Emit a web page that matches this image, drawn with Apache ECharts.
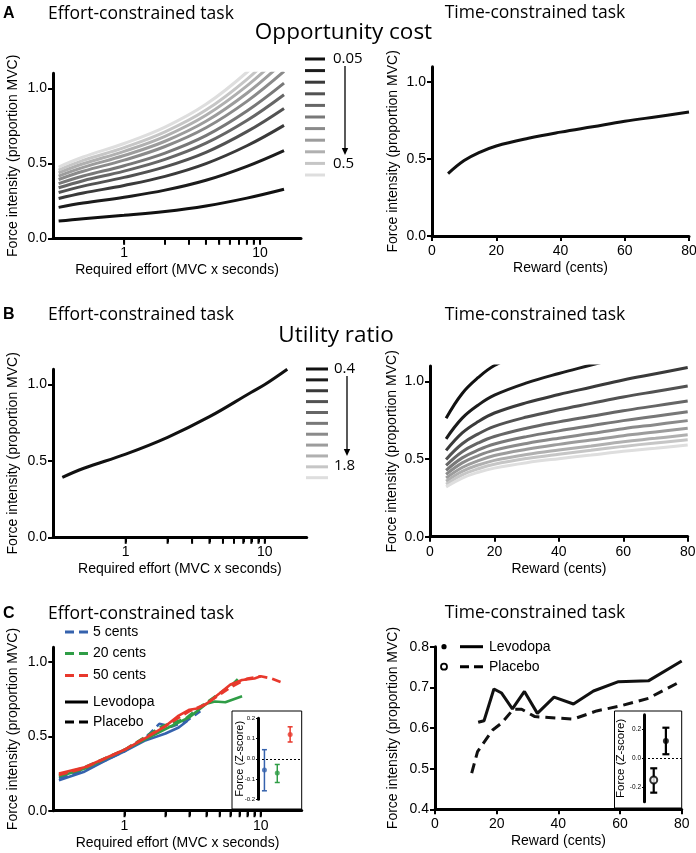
<!DOCTYPE html>
<html><head><meta charset="utf-8">
<script src="https://cdn.jsdelivr.net/npm/echarts@6/dist/echarts.min.js"></script>
<style>html,body{margin:0;padding:0;background:#fff}#c{width:696px;height:853px}</style>
</head><body><div id="c"></div>
<script>
// ---------------- DATA ----------------
// Panel A left: opportunity cost curves (force vs required effort)
const effortX = [0.33, 0.5, 1, 2, 4, 8, 15];
const oppCurve1  = [0.115, 0.131, 0.153, 0.179, 0.216, 0.268, 0.327];
const oppCurve2  = [0.206, 0.235, 0.274, 0.321, 0.387, 0.480, 0.585];
const oppCurve3  = [0.265, 0.302, 0.352, 0.413, 0.498, 0.617, 0.753];
const oppCurve4  = [0.305, 0.348, 0.406, 0.476, 0.573, 0.711, 0.866];
const oppCurve5  = [0.337, 0.384, 0.448, 0.526, 0.634, 0.785, 0.957];
const oppCurve6  = [0.364, 0.415, 0.484, 0.568, 0.684, 0.848, 1.034];
const oppCurve7  = [0.392, 0.447, 0.521, 0.612, 0.737, 0.913, 1.113];
const oppCurve8  = [0.415, 0.473, 0.552, 0.647, 0.780, 0.967, 1.179];
const oppCurve9  = [0.436, 0.497, 0.580, 0.680, 0.820, 1.016, 1.238];
const oppCurve10 = [0.455, 0.519, 0.605, 0.710, 0.855, 1.060, 1.292];
const oppCurve11 = [0.475, 0.542, 0.632, 0.741, 0.893, 1.107, 1.349];
const oppCurves = [oppCurve1, oppCurve2, oppCurve3, oppCurve4, oppCurve5, oppCurve6, oppCurve7, oppCurve8, oppCurve9, oppCurve10, oppCurve11];
const oppLegendLabels = ['0.05', '0.5'];

// Panel A right: force vs reward
const rewardX = [5, 10, 15, 20, 30, 40, 50, 60, 70, 80];
const rewardCurveA = [0.405, 0.49, 0.545, 0.585, 0.635, 0.675, 0.71, 0.745, 0.775, 0.805];

// Panel B left
const effortXB = [0.35, 0.5, 1, 2, 4, 8, 10, 14.5];
const effortCurveB = [0.392, 0.452, 0.545, 0.655, 0.79, 0.95, 1.0, 1.1];

// Panel B right: utility ratio curves (paired with rewardX by index)
const util1  = [0.763, 0.923, 1.026, 1.103, 1.198];
const util2  = [0.631, 0.764, 0.849, 0.912, 0.991, 1.052, 1.106, 1.161];
const util3  = [0.556, 0.669, 0.742, 0.797, 0.864, 0.916, 0.963, 1.010, 1.050, 1.090];
const util4  = [0.498, 0.599, 0.663, 0.711, 0.771, 0.818, 0.859, 0.900, 0.936, 0.971];
const util5  = [0.460, 0.548, 0.604, 0.646, 0.699, 0.740, 0.776, 0.812, 0.843, 0.874];
const util6  = [0.428, 0.508, 0.559, 0.597, 0.645, 0.682, 0.715, 0.748, 0.776, 0.805];
const util7  = [0.402, 0.476, 0.523, 0.558, 0.601, 0.635, 0.665, 0.696, 0.722, 0.748];
const util8  = [0.378, 0.446, 0.490, 0.523, 0.563, 0.595, 0.623, 0.651, 0.675, 0.699];
const util9  = [0.357, 0.421, 0.462, 0.492, 0.530, 0.559, 0.585, 0.612, 0.634, 0.657];
const util10 = [0.338, 0.399, 0.438, 0.467, 0.504, 0.532, 0.557, 0.582, 0.604, 0.625];
const util11 = [0.321, 0.378, 0.415, 0.442, 0.477, 0.503, 0.526, 0.550, 0.570, 0.591];
const utilCurves = [util1, util2, util3, util4, util5, util6, util7, util8, util9, util10, util11];
const utilLegendLabels = ['0.4', '1.8'];

// Panel C left: [effort, force]
const blueLevodopa  = [[0.33,0.205],[0.5,0.26],[0.7,0.33],[1,0.40],[1.4,0.47],[2,0.52],[2.5,0.56],[2.9,0.605]];
const bluePlacebo   = [[0.33,0.22],[0.5,0.27],[1,0.40],[1.5,0.51],[1.8,0.585],[2.2,0.565],[2.8,0.60],[3.3,0.645],[3.6,0.67]];
const greenLevodopa = [[0.33,0.23],[0.5,0.28],[1,0.41],[2,0.55],[3,0.63],[4,0.72],[4.6,0.735],[5.5,0.73],[7.3,0.77]];
const greenPlacebo  = [[0.33,0.24],[0.5,0.29],[1,0.41],[1.9,0.57],[2.8,0.62],[3.6,0.70],[5,0.79],[6.2,0.85],[7.2,0.91]];
const redLevodopa   = [[0.33,0.25],[0.5,0.29],[0.75,0.36],[1,0.41],[1.5,0.50],[2,0.57],[2.5,0.64],[3,0.68],[3.5,0.69],[4,0.72],[5,0.79],[6,0.85],[7.3,0.88],[9,0.89],[10,0.905]];
const redPlacebo    = [[0.33,0.24],[0.5,0.285],[0.8,0.37],[1,0.41],[1.4,0.49],[2,0.57],[3,0.67],[4,0.72],[6,0.83],[8,0.89],[10,0.905],[12,0.89],[15,0.855]];
const rewardLegend = ['5 cents', '20 cents', '50 cents'];
const drugLegend = ['Levodopa', 'Placebo'];

// Panel C right
const levoX = [14, 15.9, 19.1, 21.6, 25.1, 29, 33.2, 38.6, 44.9, 51.4, 59.5, 69.2, 80];
const levoV = [0.614, 0.618, 0.696, 0.686, 0.647, 0.690, 0.636, 0.676, 0.659, 0.691, 0.714, 0.716, 0.765];
const placX = [11.9, 13.8, 18.7, 21.6, 25.4, 28.1, 32.4, 44.9, 52.4, 60, 69.2, 80];
const placV = [0.489, 0.542, 0.595, 0.612, 0.646, 0.646, 0.628, 0.622, 0.642, 0.654, 0.673, 0.716];

// Insets (Z-score)
const insetLPos  = [1, 2, 3];            // 5, 20, 50 cents
const insetLMean = [-0.055, -0.07, 0.12];
const insetLLow  = [-0.158, -0.117, 0.083];
const insetLHigh = [0.045, -0.028, 0.158];
const insetRPos  = [1, 2];               // placebo, levodopa
const insetRMean = [-0.15, 0.119];
const insetRLow  = [-0.237, 0.028];
const insetRHigh = [-0.069, 0.211];

// Tick values
const effortTickLabels = [1, 10];
const effortTicks = [1, 2, 3, 4, 5, 6, 7, 8, 9, 10];
const forceTicks = [0, 0.5, 1.0];

// ---------------- STYLE ----------------
const FA = '"Liberation Sans", Arial, sans-serif';
const FT = '"Open Sans", sans-serif';
const grays = ['#111111','#1c1c1c','#3a3a3a','#525252','#666666','#787878','#8a8a8a','#9c9c9c','#b0b0b0','#c6c6c6','#dedede'];
const BLUE = '#3562ad', GREEN = '#2f9d46', RED = '#e8382c';
const insetLColors = [BLUE, GREEN, RED];

function fmt1(v) { const r = Math.round(v * 10) / 10; return (r === 0 ? 0 : r).toFixed(1); }

function mkAxis(gridIndex, type, o) {
  const a = {
    gridIndex, type,
    axisLine: {show: true, onZero: false, lineStyle: {color: '#000', width: 3}},
    axisTick: {show: true, length: 5, lineStyle: {color: '#000', width: 2}},
    axisLabel: {show: true, color: '#000', fontSize: 14, fontFamily: FA, margin: 7},
    splitLine: {show: false},
    nameLocation: 'middle',
    nameTextStyle: {color: '#000', fontSize: 14, fontFamily: FA},
    nameMoveOverlap: false
  };
  for (const k in o) {
    if (a[k] && typeof a[k] === 'object' && !Array.isArray(a[k]) && o[k] && typeof o[k] === 'object' && !Array.isArray(o[k])) Object.assign(a[k], o[k]);
    else a[k] = o[k];
  }
  return a;
}
function logX(gi) {
  return mkAxis(gi, 'log', {logBase: 10, min: 0.3, max: 20,
    axisLabel: {customValues: effortTickLabels, formatter: v => String(Math.round(v)), margin: 8},
    axisTick: {customValues: effortTicks},
    name: 'Required effort (MVC x seconds)', nameGap: 25});
}
function rewardXAxis(gi) {
  return mkAxis(gi, 'value', {min: 0, max: 80, interval: 20, axisLabel: {margin: 8}, name: 'Reward (cents)', nameGap: 25});
}
function forceY(gi, gap) {
  return mkAxis(gi, 'value', {min: 0, max: 1.1,
    axisLabel: {customValues: forceTicks, formatter: fmt1, margin: 6},
    axisTick: {customValues: forceTicks},
    name: 'Force intensity (proportion MVC)', nameGap: gap});
}

const grids = [
  {left: 53, top: 73.3, width: 248, height: 165},
  {left: 432, top: 66.7, width: 257, height: 169.3},
  {left: 53, top: 369.3, width: 253.7, height: 168},
  {left: 430, top: 366, width: 257.7, height: 170.7},
  {left: 53.3, top: 647.3, width: 248.4, height: 163.4},
  {left: 435, top: 646.7, width: 246.7, height: 162.6},
  {left: 258, top: 718.3, width: 43.7, height: 81},
  {left: 644, top: 714.8, width: 37.7, height: 87}
].map(g => Object.assign({outerBoundsMode: 'none', containLabel: false}, g));

const xAxes = [
  logX(0), rewardXAxis(1), logX(2), rewardXAxis(3), logX(4), rewardXAxis(5),
  {gridIndex: 6, type: 'value', min: 0.5, max: 3.9, show: false},
  {gridIndex: 7, type: 'value', min: 0.2, max: 3.3, show: false}
];
const yAxes = [
  forceY(0, 33), forceY(1, 32), forceY(2, 33), forceY(3, 31), forceY(4, 33),
  mkAxis(5, 'value', {min: 0.4, max: 0.8, interval: 0.1, axisLabel: {formatter: fmt1, margin: 6},
    name: 'Force intensity (proportion MVC)', nameGap: 35}),
  mkAxis(6, 'value', {min: -0.2, max: 0.2, interval: 0.1,
    axisTick: {length: 2, lineStyle: {color: '#000', width: 1}},
    axisLabel: {fontSize: 6, margin: 3, formatter: fmt1},
    name: 'Force (Z-score)', nameGap: 13, nameTextStyle: {color: '#000', fontSize: 11, fontFamily: FA}}),
  mkAxis(7, 'value', {min: -0.3, max: 0.3,
    axisTick: {customValues: [-0.2, 0, 0.2], length: 2, lineStyle: {color: '#000', width: 1}},
    axisLabel: {customValues: [-0.2, 0, 0.2], fontSize: 6.5, margin: 3, formatter: fmt1},
    name: 'Force (Z-score)', nameGap: 17, nameTextStyle: {color: '#000', fontSize: 11.5, fontFamily: FA}})
];

function line(idx, data, color, width, dash, smooth) {
  return {type: 'line', xAxisIndex: idx, yAxisIndex: idx, data, smooth: smooth ? 0.4 : false,
    symbol: 'none', showSymbol: false, clip: true, silent: true, animation: false,
    lineStyle: {color, width, type: dash || 'solid'}, itemStyle: {color}};
}
const series = [];
// minor ticks on the log effort axes (2..9 between 1 and 10)
[0, 2, 4].forEach(gi => series.push({type: 'custom', xAxisIndex: gi, yAxisIndex: gi, silent: true, animation: false, clip: false,
  data: effortTicks.map(v => [v, 0]),
  renderItem: (params, api) => {
    const c = api.coord([api.value(0), api.value(1)]);
    return {type: 'line', shape: {x1: c[0], y1: c[1] + 1.5, x2: c[0], y2: c[1] + 6.5}, style: {stroke: '#000', lineWidth: 2}};
  }}));
oppCurves.forEach((c, i) => series.push(line(0, c.map((v, j) => [effortX[j], v]), grays[i], 3, null, true)));
series.push(line(1, rewardCurveA.map((v, j) => [rewardX[j], v]), '#111', 3, null, true));
series.push(line(2, effortCurveB.map((v, j) => [effortXB[j], v]), '#111', 3, null, true));
utilCurves.forEach((c, i) => series.push(line(3, c.map((v, j) => [rewardX[j], v]), grays[i], 3, null, true)));
const dashC = [9, 5];
series.push(line(4, blueLevodopa, BLUE, 2.6));
series.push(line(4, bluePlacebo, BLUE, 2.6, dashC));
series.push(line(4, greenLevodopa, GREEN, 2.6));
series.push(line(4, greenPlacebo, GREEN, 2.6, dashC));
series.push(line(4, redLevodopa, RED, 2.6));
series.push(line(4, redPlacebo, RED, 2.6, dashC));
series.push(line(5, levoV.map((v, j) => [levoX[j], v]), '#111', 3));
series.push(line(5, placV.map((v, j) => [placX[j], v]), '#111', 3, [10, 6]));

function errBars(idx, pos, low, high, colors, lw, hw) {
  return {type: 'custom', xAxisIndex: idx, yAxisIndex: idx, silent: true, animation: false, z: 3,
    data: pos.map((p, i) => [p, low[i], high[i]]),
    renderItem: (params, api) => {
      const c = colors[params.dataIndex];
      const t = api.coord([api.value(0), api.value(2)]);
      const b = api.coord([api.value(0), api.value(1)]);
      const st = {stroke: c, lineWidth: lw};
      return {type: 'group', children: [
        {type: 'line', shape: {x1: t[0], y1: t[1], x2: b[0], y2: b[1]}, style: st},
        {type: 'line', shape: {x1: t[0] - hw, y1: t[1], x2: t[0] + hw, y2: t[1]}, style: st},
        {type: 'line', shape: {x1: b[0] - hw, y1: b[1], x2: b[0] + hw, y2: b[1]}, style: st}
      ]};
    }};
}
const zeroLine = {silent: true, symbol: ['none', 'none'], label: {show: false}, animation: false,
  lineStyle: {type: [2, 2], color: '#000', width: 1}, data: [{yAxis: 0}]};
series.push(errBars(6, insetLPos, insetLLow, insetLHigh, insetLColors, 1.5, 2.5));
series.push({type: 'scatter', xAxisIndex: 6, yAxisIndex: 6, silent: true, animation: false, z: 4, symbolSize: 5,
  data: insetLPos.map((p, i) => ({value: [p, insetLMean[i]], itemStyle: {color: insetLColors[i]}})),
  markLine: zeroLine});
series.push(errBars(7, insetRPos, insetRLow, insetRHigh, ['#000', '#000'], 2.2, 3.5));
series.push({type: 'scatter', xAxisIndex: 7, yAxisIndex: 7, silent: true, animation: false, z: 4,
  data: [
    {value: [insetRPos[0], insetRMean[0]], symbolSize: 7, itemStyle: {color: '#fff', borderColor: '#000', borderWidth: 2}},
    {value: [insetRPos[1], insetRMean[1]], symbolSize: 6, itemStyle: {color: '#000'}}
  ],
  markLine: zeroLine});

// ---------------- GRAPHIC (titles, keys) ----------------
const gfx = [];
function T(x, y, text, size, family, opt) {
  opt = opt || {};
  const al = opt.align || 'left';
  gfx.push({type: 'text', x, y, silent: true, style: {text, fill: '#000', fontSize: size, fontFamily: family,
    fontWeight: opt.weight || 'normal', align: al, textAlign: al, verticalAlign: 'middle', textVerticalAlign: 'middle'}});
}
function L(x1, y1, x2, y2, color, w, dash) {
  gfx.push({type: 'line', silent: true, shape: {x1, y1, x2, y2}, style: {stroke: color, lineWidth: w, lineDash: dash || null}});
}
function arrow(x, y1, y2) {
  L(x, y1, x, y2 - 6, '#000', 1.3);
  gfx.push({type: 'polygon', silent: true, shape: {points: [[x - 3.2, y2 - 7], [x + 3.2, y2 - 7], [x, y2]]}, style: {fill: '#000'}});
}
// panel letters & titles
T(3, 14, 'A', 16, FA, {weight: 'bold'});
T(3, 315, 'B', 16, FA, {weight: 'bold'});
T(3, 614, 'C', 16, FA, {weight: 'bold'});
[14, 315, 614].forEach(y => T(48, y, 'Effort-constrained task', 17.5, FT));
[13, 315, 613].forEach(y => T(535, y, 'Time-constrained task', 17.5, FT, {align: 'center'}));
T(343.5, 33, 'Opportunity cost', 22.5, FT, {align: 'center'});
T(336, 336, 'Utility ratio', 22.5, FT, {align: 'center'});
// gray keys
grays.forEach((g, i) => L(305, 59 + i * 11.6, 325, 59 + i * 11.6, g, 3));
T(333, 59, oppLegendLabels[0], 15, FT);
T(333, 163.4, oppLegendLabels[1], 15, FT);
arrow(345, 66, 155);
grays.forEach((g, i) => L(306, 369 + i * 10.87, 328, 369 + i * 10.87, g, 3));
T(334, 369, utilLegendLabels[0], 15, FT);
T(334, 466, utilLegendLabels[1], 15, FT);
arrow(347, 376, 456);
// C left key
const keyY = [632, 653.5, 675.5, 702, 722];
[BLUE, GREEN, RED].forEach((c, i) => { L(65, keyY[i], 88, keyY[i], c, 3, [9, 5]); T(93, keyY[i], rewardLegend[i], 14, FA); });
L(65, keyY[3], 88, keyY[3], '#000', 3); T(93, keyY[3], drugLegend[0], 14, FA);
L(65, keyY[4], 88, keyY[4], '#000', 3, [9, 5]); T(93, keyY[4], drugLegend[1], 14, FA);
// C right key
gfx.push({type: 'circle', silent: true, shape: {cx: 444, cy: 646.7, r: 2.6}, style: {fill: '#000'}});
L(460, 646.7, 483, 646.7, '#000', 3); T(489, 646.7, drugLegend[0], 14, FA);
gfx.push({type: 'circle', silent: true, shape: {cx: 444, cy: 666.7, r: 3}, style: {fill: 'rgba(0,0,0,0)', stroke: '#000', lineWidth: 1.8}});
L(460, 666.7, 483, 666.7, '#000', 3, [9, 5]); T(489, 666.7, drugLegend[1], 14, FA);
// inset frames
gfx.push({type: 'rect', silent: true, shape: {x: 232, y: 711, width: 69.7, height: 98}, style: {fill: 'rgba(0,0,0,0)', stroke: '#000', lineWidth: 1}});
gfx.push({type: 'rect', silent: true, shape: {x: 614.5, y: 711, width: 67.2, height: 97}, style: {fill: 'rgba(0,0,0,0)', stroke: '#000', lineWidth: 1}});

const chart = echarts.init(document.getElementById('c'), null, {renderer: 'canvas', width: 696, height: 853});
chart.setOption({
  backgroundColor: '#fff',
  animation: false,
  grid: grids,
  xAxis: xAxes,
  yAxis: yAxes,
  series,
  graphic: {elements: gfx}
});
</script>
</body></html>
